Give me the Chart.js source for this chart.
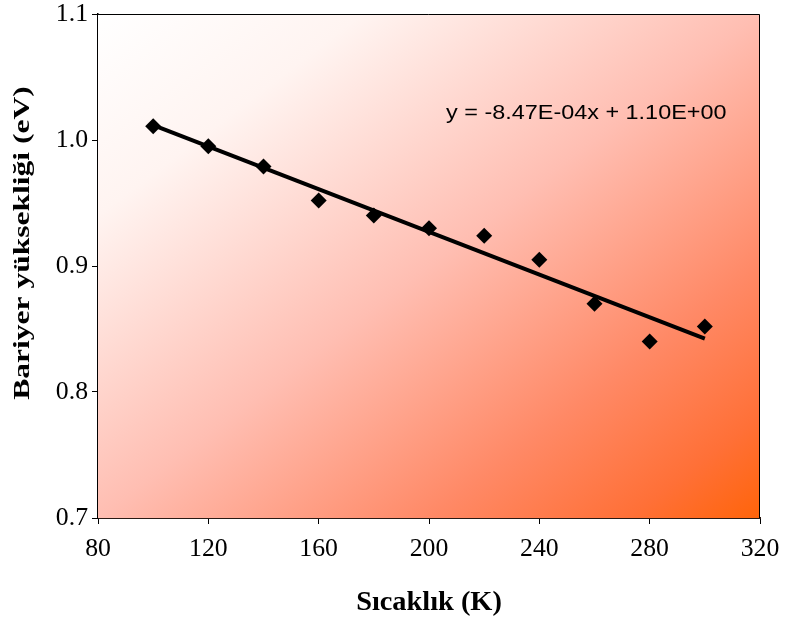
<!DOCTYPE html>
<html>
<head>
<meta charset="utf-8">
<script src="https://cdn.jsdelivr.net/npm/chart.js@4.4.1/dist/chart.umd.min.js"></script>
<style>
  html, body { margin: 0; padding: 0; background: #ffffff; }
  #wrap { width: 787px; height: 622px; }
</style>
</head>
<body>
<div id="wrap"><canvas id="chart" width="787" height="622"></canvas></div>
<script>
// Temperature (K) and barrier height (eV) measurements
const temps = [100, 120, 140, 160, 180, 200, 220, 240, 260, 280, 300];
const barrier = [1.011, 0.995, 0.979, 0.952, 0.940, 0.930, 0.924, 0.905, 0.870, 0.840, 0.852];

// Axis tick labels
const xTicks = [80, 120, 160, 200, 240, 280, 320];
const yTicks = [0.7, 0.8, 0.9, 1.0, 1.1];

// Linear trendline: slope as printed in the equation label
const fitSlope = -8.47e-4;
const meanX = temps.reduce((a, b) => a + b, 0) / temps.length;
const meanY = barrier.reduce((a, b) => a + b, 0) / barrier.length;
const fitIntercept = meanY - fitSlope * meanX;
const equationLabel = 'y = -8.47E-04x + 1.10E+00';

const xTitle = 'Sıcaklık (K)';
const yTitle = 'Bariyer yüksekliği (eV)';

const points = temps.map((t, i) => ({ x: t, y: barrier[i] }));
const tStart = temps[0], tEnd = temps[temps.length - 1];
const trend = [
  { x: tStart, y: fitIntercept + fitSlope * tStart },
  { x: tEnd, y: fitIntercept + fitSlope * tEnd }
];

// Draw text with a stretch factor along the text direction
function stretchedText(ctx, text, x, y, font, align, sx, rotate) {
  ctx.save();
  ctx.font = font;
  ctx.fillStyle = '#000';
  ctx.textAlign = align;
  ctx.textBaseline = 'middle';
  ctx.translate(x, y);
  if (rotate) ctx.rotate(rotate);
  ctx.scale(sx, 1);
  ctx.fillText(text, 0, 0);
  ctx.restore();
}

// Diagonal white-to-orange fill of the plot area
const plotBackground = {
  id: 'plotBackground',
  beforeDatasetsDraw(chart) {
    const { ctx, chartArea: a } = chart;
    ctx.save();
    ctx.translate(a.left, a.top);
    ctx.scale(a.right - a.left, a.bottom - a.top);
    const g = ctx.createLinearGradient(0, 0, 1, 1);
    g.addColorStop(0, 'rgb(255,255,255)');
    g.addColorStop(0.2, 'rgb(255,244,241)');
    g.addColorStop(0.5, 'rgb(255,190,178)');
    g.addColorStop(0.75, 'rgb(255,137,102)');
    g.addColorStop(0.9, 'rgb(255,112,55)');
    g.addColorStop(1, 'rgb(255,100,10)');
    ctx.fillStyle = g;
    ctx.fillRect(0, 0, 1, 1);
    ctx.restore();
  }
};

// Plot frame, tick labels, axis titles and the trendline equation
const annotations = {
  id: 'annotations',
  afterDraw(chart) {
    const { ctx, chartArea: a, scales } = chart;
    ctx.save();
    ctx.strokeStyle = '#000';
    ctx.lineWidth = 1;
    ctx.beginPath();
    ctx.moveTo(a.left, a.top + 0.5);
    ctx.lineTo(a.right - 0.5, a.top + 0.5);
    ctx.lineTo(a.right - 0.5, a.bottom);
    ctx.stroke();
    ctx.restore();

    const tickFont = '25px "Liberation Serif"';
    yTicks.forEach(v => {
      stretchedText(ctx, v.toFixed(1), a.left - 10, scales.y.getPixelForValue(v), tickFont, 'right', 1.03);
    });
    xTicks.forEach(v => {
      stretchedText(ctx, String(v), scales.x.getPixelForValue(v), a.bottom + 31, tickFont, 'center', 1.03);
    });
    stretchedText(ctx, xTitle, (a.left + a.right) / 2, 603, 'bold 27px "Liberation Serif"', 'center', 1.05);
    stretchedText(ctx, yTitle, 23, 243, 'bold 23px "Liberation Serif"', 'center', 1.37, -Math.PI / 2);
    stretchedText(ctx, equationLabel, scales.x.getPixelForValue(206.2), scales.y.getPixelForValue(1.0214),
      '20px "Liberation Sans"', 'left', 1.17);
  }
};

new Chart(document.getElementById('chart'), {
  type: 'scatter',
  data: {
    datasets: [
      {
        label: 'Bariyer yüksekliği',
        data: points,
        pointStyle: 'rectRot',
        pointRadius: 8,
        pointHoverRadius: 8,
        backgroundColor: '#000',
        borderColor: '#000',
        borderWidth: 0,
        order: 1
      },
      {
        label: 'Trend',
        type: 'line',
        data: trend,
        borderColor: '#000',
        borderWidth: 4,
        pointRadius: 0,
        fill: false,
        tension: 0,
        order: 2
      }
    ]
  },
  options: {
    responsive: false,
    devicePixelRatio: 1,
    animation: false,
    events: [],
    layout: { padding: { top: 14, right: 27, left: 0, bottom: 0 } },
    plugins: {
      legend: { display: false },
      tooltip: { enabled: false }
    },
    scales: {
      x: {
        type: 'linear',
        position: 'bottom',
        min: 80,
        max: 320,
        ticks: { stepSize: 40, display: false },
        grid: { drawOnChartArea: false, drawTicks: true, tickLength: 6, color: '#000', tickWidth: 1 },
        border: { color: '#2a1a14', width: 2 },
        afterFit(s) { s.height = 104; }
      },
      y: {
        type: 'linear',
        position: 'left',
        min: 0.7,
        max: 1.1,
        ticks: { stepSize: 0.1, display: false },
        grid: { drawOnChartArea: false, drawTicks: true, tickLength: 6, color: '#000', tickWidth: 1 },
        border: { color: '#000', width: 1.5 },
        afterFit(s) { s.width = 98; }
      }
    }
  },
  plugins: [plotBackground, annotations]
});
</script>
</body>
</html>
